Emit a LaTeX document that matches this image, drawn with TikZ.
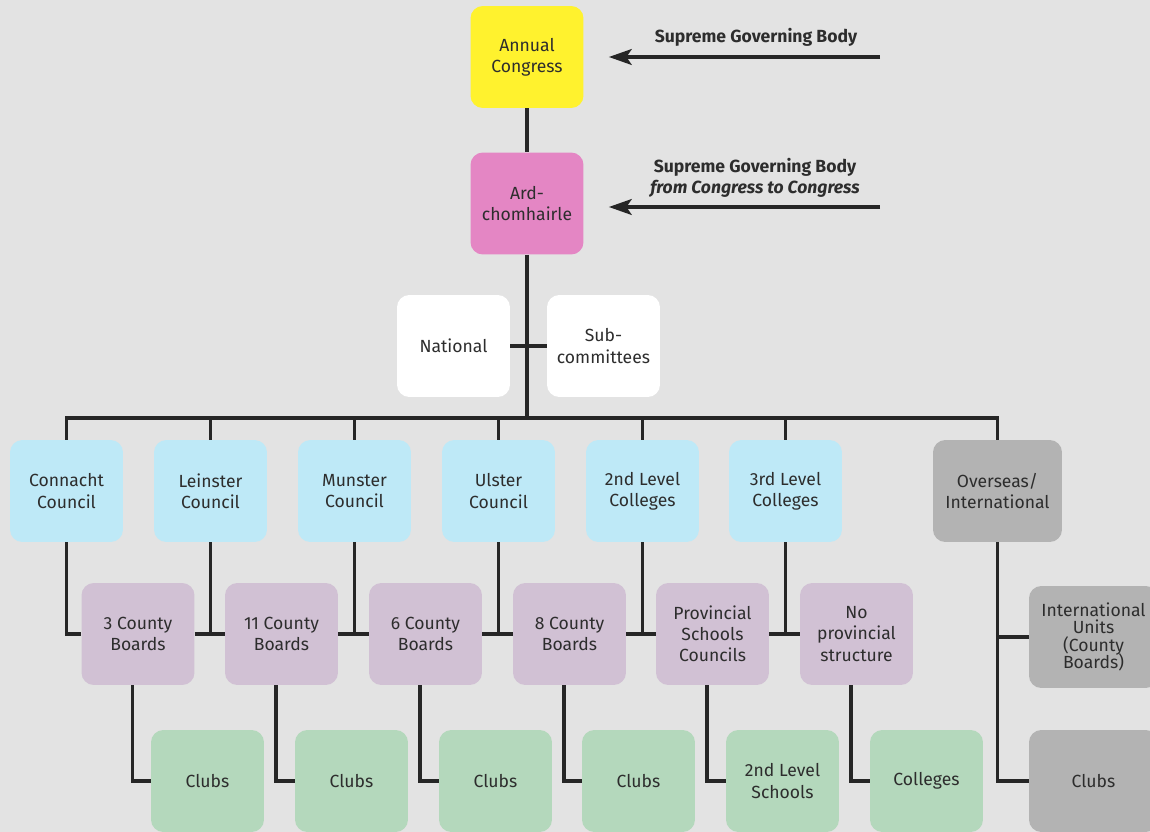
\documentclass[tikz,border=0pt]{standalone}
\usepackage{fontspec}
\setmainfont{Fira Sans}
\usepackage{xcolor}
\usepackage{tikz}
\usetikzlibrary{arrows.meta,positioning,calc}
\definecolor{bgray}{RGB}{227,227,227}
\definecolor{ink}{RGB}{38,38,38}
\definecolor{txt}{RGB}{45,45,45}
\definecolor{yel}{RGB}{255,242,46}
\definecolor{pnk}{RGB}{228,134,196}
\definecolor{lblue}{RGB}{190,233,247}
\definecolor{lpurp}{RGB}{209,193,212}
\definecolor{lgreen}{RGB}{180,216,188}
\definecolor{mgray}{RGB}{179,179,179}
\tikzset{
  org/.style={rectangle,rounded corners=7pt,fill=#1,text=txt,
              minimum width=2.26cm,minimum height=2.04cm,
              align=center,inner sep=2pt,font=\normalsize},
  org/.default=white,
  wide/.style={minimum width=2.58cm},
  ln/.style={line width=2pt,color=ink},
  arr/.style={-{Stealth[length=13pt,width=9pt,inset=3pt]},line width=2pt,color=ink},
}

\begin{document}
\begin{tikzpicture}[x=0.02cm,y=-0.02cm,
        lab/.style={font=\normalsize\bfseries,text=txt,align=center},
      ]
        \useasboundingbox (0,0) rectangle (1150,832);
        \fill[bgray] (0,0) rectangle (1150,832);
        \clip (0,0) rectangle (1150,832);

        % ── Top of the tree
        \node[org=yel] (cong) at (527,57)  {Annual\\Congress};
        \node[org=pnk] (ard)  at (527,203.5) {Ard-\\chomhairle};
        \node[org]     (nat)  at (453.5,346) {National};
        \node[org]     (sub)  at (603.5,346) {Sub-\\committees};

        % ── Side notes
        \node[lab] (lab1) at (756,37) {Supreme Governing Body};
        \node[lab] (lab2) at (755,178) {Supreme Governing Body\\\textit{from Congress to Congress}};
        \coordinate (r1) at (880,57);
        \coordinate (r2) at (880,207);
        \draw[arr,shorten >=0.5cm] (r1) -- (r1 -| cong.east);
        \draw[arr,shorten >=0.5cm] (r2) -- (r2 -| ard.east);

        % ── Councils
        \node[org=lblue] (con) at (66.5,491)  {Connacht\\Council};
        \node[org=lblue] (lei) at (210.5,491) {Leinster\\Council};
        \node[org=lblue] (mun) at (354.5,491) {Munster\\Council};
        \node[org=lblue] (uls) at (498.5,491) {Ulster\\Council};
        \node[org=lblue] (sec) at (642.5,491) {2nd Level\\Colleges};
        \node[org=lblue] (ter) at (785.5,491) {3rd Level\\Colleges};
        \node[org=mgray,wide] (ovs) at (997.5,491) {Overseas/\\International};

        % ── Boards
        \node[org=lpurp] (b1) at (138,634)   {3 County\\Boards};
        \node[org=lpurp] (b2) at (281.5,634) {11 County\\Boards};
        \node[org=lpurp] (b3) at (425.5,634) {6 County\\Boards};
        \node[org=lpurp] (b4) at (569.5,634) {8 County\\Boards};
        \node[org=lpurp] (b5) at (712.5,634) {Provincial\\Schools\\Councils};
        \node[org=lpurp] (b6) at (856.5,634) {No\\provincial\\structure};
        \node[org=mgray,wide] (intl) at (1093.5,637)
          {International\\[-2pt]Units\\[-2pt](County\\[-2pt]Boards)};

        % ── Clubs and schools
        \node[org=lgreen] (g1) at (207.5,781) {Clubs};
        \node[org=lgreen] (g2) at (351.5,781) {Clubs};
        \node[org=lgreen] (g3) at (495.5,781) {Clubs};
        \node[org=lgreen] (g4) at (638.5,781) {Clubs};
        \node[org=lgreen] (g5) at (782.5,781) {2nd Level\\Schools};
        \node[org=lgreen] (g6) at (926.5,781) {Colleges};
        \node[org=mgray,wide] (gc) at (1093.5,781) {Clubs};

        % ── Connectors
        \coordinate (bus) at (527,418);
        \draw[ln] (cong) -- (ard);
        \draw[ln] (ard) -- (bus);
        \draw[ln] (nat) -- (sub);
        \draw[ln] (con.north) |- (bus) -| (ovs.north);
        \foreach \c in {lei,mun,uls,sec,ter}
          \draw[ln] (\c.north) -- (\c.north |- bus);
        \foreach \c/\b in {con/b1,lei/b2,mun/b3,uls/b4,sec/b5,ter/b6}
          \draw[ln] (\c.south) |- (\b.west);
        \foreach \a/\b in {b1/b2,b2/b3,b3/b4,b4/b5,b5/b6}
          \draw[ln] (\a.east) -- (\b.west);
        \foreach \b/\g in {b1/g1,b2/g2,b3/g3,b4/g4,b5/g5,b6/g6}
          \draw[ln] ([xshift=-3pt]\b.south) |- (\g.west);
        \draw[ln] (ovs.south) |- (gc.west);
        \draw[ln] (ovs.south |- intl.west) -- (intl.west);
      \end{tikzpicture}
\end{document}
